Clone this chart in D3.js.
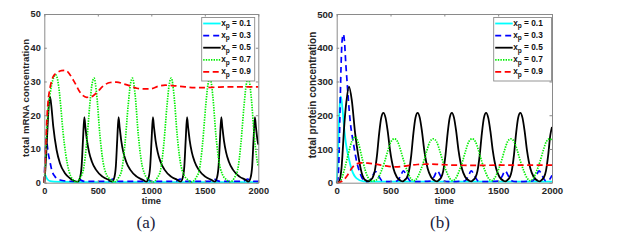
<!DOCTYPE html>
<html><head><meta charset="utf-8">
<script src="https://cdn.jsdelivr.net/npm/d3@7"></script>
<style>
body{margin:0;background:#fff}svg{display:block}
.sans{font-family:"Liberation Sans",Arial,Helvetica,sans-serif;font-weight:bold}
.serif{font-family:"Liberation Serif","DejaVu Serif",serif}
</style></head>
<body><svg id="c" width="636" height="241"></svg>
<script>
// ---------- data ----------
const xTicks = [0, 500, 1000, 1500, 2000];
const mrnaTicks = [0, 10, 20, 30, 40, 50];
const proteinTicks = [0, 100, 200, 300, 400, 500];
const legendValues = ["0.1", "0.3", "0.5", "0.7", "0.9"];

// panel (a): total mRNA concentration  [time, value]
const mrnaX01 = [[0,2.6],[8,2.3],[20,1.5],[35,0.8],[55,0.45],[90,0.3],[150,0.25],[400,0.2],[2000,0.2]];
const mrnaX03 = [[0,0],[6,7],[12,11.5],[18,13.2],[26,11.5],[37,8.7],[53,6.2],[69,3.8],[100,1.8],[147,0.8],[200,0.5],[270,0.4],[300,0.7],[320,1.1],[345,0.7],[380,0.4],[600,0.4],[620,0.8],[640,1.1],[665,0.7],[700,0.4],[915,0.4],[935,0.8],[955,1.1],[980,0.7],[1015,0.4],[1230,0.4],[1250,0.8],[1270,1.1],[1295,0.7],[1330,0.4],[1545,0.4],[1565,0.8],[1585,1.1],[1610,0.7],[1645,0.4],[1860,0.4],[1880,0.8],[1900,1.1],[1925,0.7],[1960,0.4],[2000,0.4]];
const mrnaX05 = [[0,0],[10,4],[25,13],[40,22],[53,25.5],[65,23],[84,16.6],[115,9.7],[147,5.7],[193,2.8],[240,1.3],[280,0.5],[314,0.3],
  [334,1.5],[349,5],[362,13],[374,19.4],[384,16.5],[399,12.5],[419,9],[444,6.3],[484,3.8],[544,1.8],[604,0.8],[634,0.3],
  [654,1.5],[669,5],[682,13],[694,19.4],[704,16.5],[719,12.5],[739,9],[764,6.3],[804,3.8],[864,1.8],[924,0.8],[955,0.3],
  [975,1.5],[990,5],[1003,13],[1015,19.4],[1025,16.5],[1040,12.5],[1060,9],[1085,6.3],[1125,3.8],[1185,1.8],[1245,0.8],[1274,0.3],
  [1294,1.5],[1309,5],[1322,13],[1334,19.4],[1344,16.5],[1359,12.5],[1379,9],[1404,6.3],[1444,3.8],[1504,1.8],[1564,0.8],[1594,0.3],
  [1614,1.5],[1629,5],[1642,13],[1654,19.4],[1664,16.5],[1679,12.5],[1699,9],[1724,6.3],[1764,3.8],[1824,1.8],[1884,0.8],[1908,0.3],
  [1928,1.5],[1943,5],[1956,13],[1968,19.4],[1978,16.5],[1993,12.5],[2000,11.3]];
const mrnaX07 = [[0,0],[10,6],[20,14],[35,21],[55,26.5],[80,30.5],[106,32],[130,29.5],[150,24],[175,15],[200,8.5],[230,3.5],[260,1.2],[300,0.2],
  [335,1.5],[365,3.8],[395,11.5],[425,23],[445,29],[465,31],[490,26],[520,14],[550,6],[580,2.5],[615,1],[655,0.2],
  [694,1.5],[724,3.8],[754,11.5],[784,23],[804,29],[824,31],[849,26],[879,14],[909,6],[939,2.5],[974,1],[1014,0.2],
  [1057,1.5],[1087,3.8],[1117,11.5],[1147,23],[1167,29],[1187,31],[1212,26],[1242,14],[1272,6],[1302,2.5],[1337,1],[1377,0.2],
  [1419,1.5],[1449,3.8],[1479,11.5],[1509,23],[1529,29],[1549,31],[1574,26],[1604,14],[1634,6],[1664,2.5],[1699,1],[1739,0.2],
  [1777,1.5],[1807,3.8],[1837,11.5],[1867,23],[1887,29],[1907,31],[1932,26],[1962,14],[1992,6],[2000,4.8]];
const mrnaX09 = [[0,0],[10,8],[22,17.5],[35,24],[53,28],[84,31.5],[120,32.6],[160,33.2],[200,33.3],[240,32],[287,29.5],[334,26.8],[396,25.3],[443,25.5],[490,26.7],[552,28.7],[615,29.7],[677,29.8],[740,29.3],[802,28.7],[865,28],[927,27.8],[990,27.8],[1066,28.6],[1130,28.9],[1191,28.8],[1316,28.4],[1400,28.2],[1503,28.2],[1600,28.3],[1722,28.4],[1850,28.4],[2000,28.4]];

// panel (b): total protein concentration  [time, value]
const protX01 = [[0,0],[10,60],[20,170],[30,240],[37,255],[45,245],[55,215],[70,160],[85,118],[110,75],[140,38],[185,13],[250,4],[320,3],[2000,3]];
const protX03 = [[0,0],[10,8],[20,60],[30,200],[40,340],[50,420],[62,440],[72,420],[85,350],[93,314],[124,186],[155,117],[186,62],[217,28],[248,8],[279,3],
  [300,5],[330,18],[360,33],[390,20],[420,6],[460,3],
  [560,5],[590,18],[620,35],[650,20],[680,6],[720,3],
  [875,5],[905,18],[935,35],[965,20],[995,6],[1035,3],
  [1190,5],[1220,18],[1250,35],[1280,20],[1310,6],[1350,3],
  [1505,5],[1535,18],[1565,35],[1595,20],[1625,6],[1665,3],
  [1820,5],[1850,18],[1880,35],[1910,20],[1940,6],[1970,8],[2000,22]];
const protX05 = [[0,0],[20,2],[43,38],[74,186],[90,240],[114,285],[140,245],[171,147],[202,77],[233,28],[264,8],[295,4],[314,8],
  [334,15],[354,35],[374,80],[394,145],[414,193],[434,207],[454,192],[474,152],[496,95],[527,42],[558,17],[594,6],[614,4],[632,8],
  [652,15],[672,35],[692,80],[712,145],[732,193],[752,207],[772,192],[792,152],[814,95],[845,42],[876,17],[912,6],[932,4],[950,8],
  [970,15],[990,35],[1010,80],[1030,145],[1050,193],[1070,207],[1090,192],[1110,152],[1132,95],[1163,42],[1194,17],[1230,6],[1250,4],[1268,8],
  [1288,15],[1308,35],[1328,80],[1348,145],[1368,193],[1388,207],[1408,192],[1428,152],[1450,95],[1481,42],[1512,17],[1548,6],[1568,4],[1586,8],
  [1606,15],[1626,35],[1646,80],[1666,145],[1686,193],[1706,207],[1726,192],[1746,152],[1768,95],[1799,42],[1830,17],[1866,6],[1886,4],[1904,8],
  [1924,15],[1944,35],[1964,80],[1984,140],[2000,165]];
const protX07 = [[0,0],[20,1],[40,8],[78,47],[109,87],[140,122],[172,136],[202,117],[233,77],[264,38],[295,13],[326,5],[355,6],
  [385,14],[415,35],[445,62],[475,95],[505,122],[535,130],[565,122],[595,95],[625,62],[655,35],[685,14],[716,6],
  [747,14],[777,35],[807,62],[837,95],[867,122],[897,130],[927,122],[957,95],[987,62],[1017,35],[1047,14],[1078,6],
  [1108,14],[1138,35],[1168,62],[1198,95],[1228,122],[1258,130],[1288,122],[1318,95],[1348,62],[1378,35],[1408,14],[1438,6],
  [1468,14],[1498,35],[1528,62],[1558,95],[1588,122],[1618,130],[1648,122],[1678,95],[1708,62],[1738,35],[1768,14],[1798,6],
  [1828,14],[1858,35],[1888,62],[1918,95],[1948,122],[1978,130],[2000,126]];
const protX09 = [[0,0],[40,3],[70,10],[100,22],[140,43],[180,55],[230,59],[290,58],[360,55],[450,50],[550,47],[650,50],[750,54],[850,55],[950,54],[1100,52],[1300,51.5],[1600,52],[2000,52]];

// ---------- drawing ----------
const svg = d3.select("#c");
const styles = [
  {color:"#00ffff", dash:null, w:1.8},
  {color:"#0000ff", dash:"6,4", w:1.7},
  {color:"#000000", dash:null, w:1.8},
  {color:"#00ee00", dash:"1.4,1.2", w:1.7},
  {color:"#ff0000", dash:"6,3.5", w:1.7}
];

function panel(cfg){
  const x = d3.scaleLinear().domain([0,2000]).range([cfg.x0, cfg.x1]);
  const y = d3.scaleLinear().domain([0, cfg.ymax]).range([182.7, 14]);
  const g = svg.append("g");
  const line = d3.line().x(d=>x(d[0])).y(d=>y(d[1])).curve(d3.curveMonotoneX);
  cfg.series.forEach((s,i)=>{
    const st = styles[i];
    g.append("path").attr("d", line(s)).attr("fill","none")
      .attr("stroke", st.color).attr("stroke-width", st.w)
      .attr("stroke-dasharray", st.dash).attr("stroke-linejoin","round");
  });
  const axCol = "#8a8a8a";
  const fmt = d3.format("d");
  const bottom = g.append("g").attr("transform",`translate(0,${y(0)})`)
    .call(d3.axisBottom(x).tickValues(xTicks).tickFormat(fmt).tickSize(-2.5).tickSizeOuter(0).tickPadding(4.5));
  const top = g.append("g").attr("transform",`translate(0,${y(cfg.ymax)})`)
    .call(d3.axisTop(x).tickValues(xTicks).tickSize(-2.5).tickSizeOuter(0).tickFormat(""));
  const left = g.append("g").attr("transform",`translate(${x(0)},0)`)
    .call(d3.axisLeft(y).tickValues(cfg.yTicks).tickFormat(fmt).tickSize(-2.5).tickSizeOuter(0).tickPadding(3.5));
  const right = g.append("g").attr("transform",`translate(${x(2000)},0)`)
    .call(d3.axisRight(y).tickValues(cfg.yTicks).tickSize(-2.5).tickSizeOuter(0).tickFormat(""));
  [bottom,top,left,right].forEach(a=>{
    a.attr("font-family",null).attr("font-size",null);
    a.selectAll(".domain").attr("stroke",axCol).attr("stroke-width",1);
    a.selectAll(".tick line").attr("stroke",axCol);
    a.selectAll("text").attr("class","sans").style("font-size",cfg.tickFont+"px").attr("fill","#262626");
  });
  g.append("text").attr("class","sans").attr("x",(cfg.x0+cfg.x1)/2).attr("y",204.3).attr("text-anchor","middle")
    .style("font-size","9.4px").attr("fill","#262626").text("time");
  g.append("text").attr("class","sans").attr("transform",`translate(${cfg.ylabX},${cfg.ylabY}) rotate(-90)`)
    .attr("text-anchor","middle").style("font-size",cfg.ylabFont+"px").attr("fill","#262626").text(cfg.ylabel);
  // legend
  const lg = g.append("g");
  lg.append("rect").attr("x",cfg.lx).attr("y",17.5).attr("width",cfg.lw).attr("height",63.5)
    .attr("fill","#fff").attr("stroke","#8a8a8a").attr("stroke-width",0.9);
  legendValues.forEach((v,i)=>{
    const cy = 23.5 + i*12.1;
    const st = styles[i];
    lg.append("line").attr("x1",cfg.lx+1.5).attr("x2",cfg.lx+19).attr("y1",cy).attr("y2",cy)
      .attr("stroke",st.color).attr("stroke-width",st.w).attr("stroke-dasharray",st.dash);
    const t = lg.append("text").attr("class","sans").attr("x",cfg.lx+19.5).attr("y",cy+2.2)
      .style("font-size","8.3px").attr("fill","#111");
    t.append("tspan").text("x");
    t.append("tspan").attr("dy",2.6).style("font-size","6.5px").text("p");
    t.append("tspan").attr("dy",-2.6).text(" = " + v);
  });
  g.append("text").attr("class","serif").attr("x",cfg.capX).attr("y",228).attr("text-anchor","middle")
    .style("font-size","17px").attr("fill","#1c1c3c").text(cfg.caption);
}

panel({x0:44.3, x1:258.3, ymax:50, yTicks:mrnaTicks, tickFont:9.2,
  series:[mrnaX01,mrnaX03,mrnaX05,mrnaX07,mrnaX09],
  ylabel:"total mRNA concentration", ylabX:28.5, ylabY:98, ylabFont:9.6,
  lx:201.7, lw:53, caption:"(a)", capX:146});
panel({x0:336.7, x1:552, ymax:500, yTicks:proteinTicks, tickFont:9.6,
  series:[protX01,protX03,protX05,protX07,protX09],
  ylabel:"total protein concentration", ylabX:315.5, ylabY:95, ylabFont:10,
  lx:493.7, lw:57.8, caption:"(b)", capX:440});
</script></body></html>
